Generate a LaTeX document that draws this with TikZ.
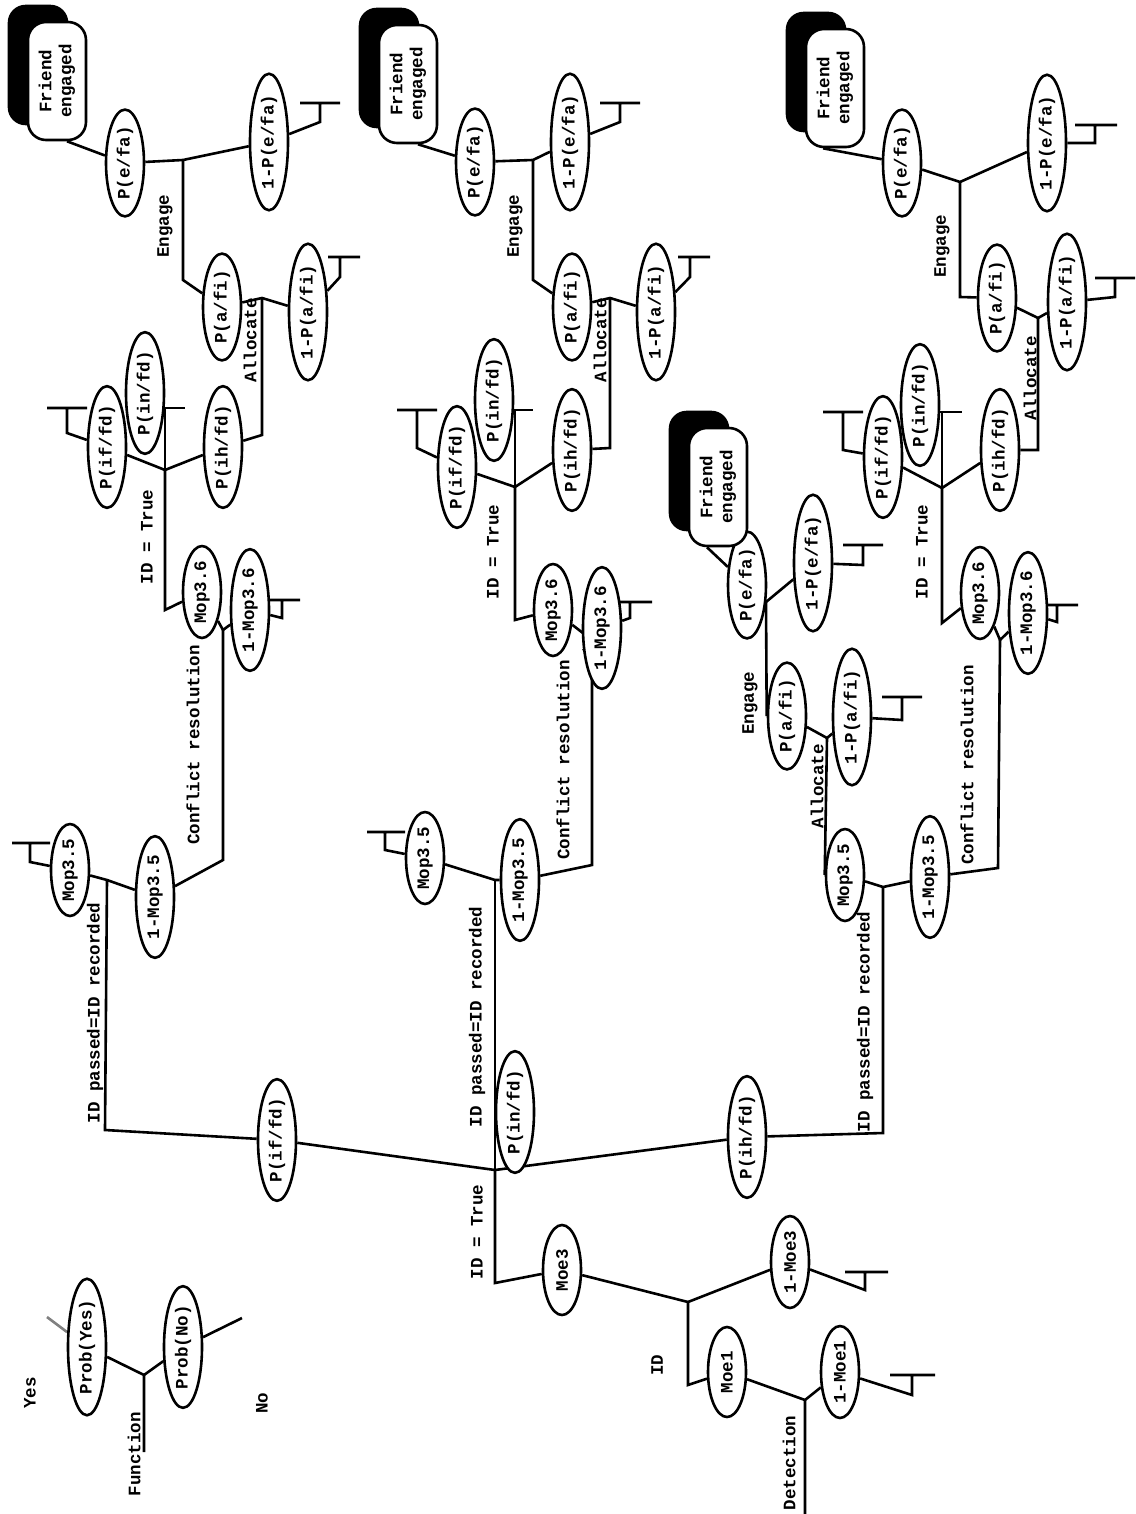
\documentclass[tikz,border=0pt]{standalone}
\usepackage{fontspec}
\setmonofont{Liberation Mono}
\usetikzlibrary{shapes.geometric,backgrounds}

\begin{document}
\begin{tikzpicture}[
    x=0.5pt,y=-0.5pt,
    font=\ttfamily\bfseries\fontsize{8.75}{10}\selectfont,
    line width=1.3pt,
    every on background layer/.style={line width=1.3pt},
    prob/.style={
        ellipse,draw,fill=white,rotate=90,
        inner xsep=0.5pt,inner ysep=0pt,
        minimum width=45pt,minimum height=19pt
    },
    outcome/.style={
        draw,fill=white,rounded corners=9pt,rotate=90,align=center,
        minimum width=59pt,minimum height=29pt,inner sep=2pt
    },
    shadowbox/.style={fill=black,rounded corners=9pt},
    lbl/.style={rotate=90,inner sep=0pt}
]
% The page is the scanned sheet, turned on its side.
\useasboundingbox (0,0) rectangle (1135,1514);

% key
\node[prob] (pyes) at (87,1347) {Prob(Yes)};
\node[prob] (pno) at (183,1347) {Prob(No)};
\node[lbl] (yes) at (30,1393) {Yes};
\node[lbl] (no) at (262,1403) {No};
\node[lbl] (func) at (134,1454) {Function};
\coordinate (fj) at (144,1375);
\coordinate (fend) at (144,1452);
\coordinate (yesend) at (47,1317);
\coordinate (noend) at (242,1318);

% detection and identification
\node[lbl] (det) at (789,1463) {Detection};
\coordinate (j0) at (805,1400);
\coordinate (detend) at (805,1514);
\node[prob] (moe1) at (727,1372) {Moe1};
\node[prob] (nmoe1) at (840,1372) {1-Moe1};
\node[lbl] (idl) at (657,1365) {ID};
\coordinate (b1) at (688,1385);
\coordinate (j1) at (688,1302);
\node[prob] (moe3) at (562,1270) {Moe3};
\node[prob] (nmoe3) at (790,1262) {1-Moe3};
\node[lbl] (idtrue) at (477,1232) {ID = True};
\coordinate (b2) at (495,1283);
\coordinate (j2) at (495,1170);
\node[prob] (pif) at (277,1140) {P(if/fd)};
\node[prob] (pin) at (515,1112) {P(in/fd)};
\node[prob] (pih) at (747,1137) {P(ih/fd)};
\coordinate (bl) at (105,1130);
\coordinate (br) at (883,1133);
\node[lbl] (passL) at (95,1013) {ID passed=ID recorded};
\node[lbl] (passM) at (477,1017) {ID passed=ID recorded};
\node[lbl] (passR) at (865,1022) {ID passed=ID recorded};

% left column
\coordinate (jl3) at (107,880);
\node[prob] (mop35L) at (70,870) {Mop3.5};
\node[prob] (nmop35L) at (155,897) {1-Mop3.5};
\node[lbl] (confL) at (193,745) {Conflict resolution};
\coordinate (jl4) at (223,630);
\node[prob] (mop36L) at (202,592) {Mop3.6};
\node[prob] (nmop36L) at (250,610) {1-Mop3.6};
\node[lbl] (idtL) at (147,537) {ID = True};
\coordinate (jl5) at (165,470);
\node[prob] (pifL) at (107,447) {P(if/fd)};
\node[prob] (pinL) at (145,393) {P(in/fd)};
\node[prob] (pihL) at (223,447) {P(ih/fd)};
\node[lbl] (allocL) at (250,340) {Allocate};
\coordinate (jl6) at (262,298);
\node[prob] (pafiL) at (222,307) {P(a/fi)};
\node[prob] (npafiL) at (308,312) {1-P(a/fi)};
\node[lbl] (engL) at (165,226) {Engage};
\coordinate (jl7) at (183,160);
\node[prob] (pefaL) at (125,163) {P(e/fa)};
\node[prob] (npefaL) at (269,142) {1-P(e/fa)};
\node[outcome] (feL) at (57,81) {Friend\\engaged};

% middle column
\coordinate (jm3) at (495,880);
\node[prob] (mop35M) at (425,858) {Mop3.5};
\node[prob] (nmop35M) at (520,880) {1-Mop3.5};
\node[lbl] (confM) at (563,760) {Conflict resolution};
\coordinate (jm4) at (592,640);
\node[prob] (mop36M) at (553,610) {Mop3.6};
\node[prob] (nmop36M) at (602,628) {1-Mop3.6};
\node[lbl] (idtM) at (493,552) {ID = True};
\coordinate (jm5) at (515,487);
\node[prob] (pifM) at (457,467) {P(if/fd)};
\node[prob] (pinM) at (494,400) {P(in/fd)};
\node[prob] (pihM) at (572,450) {P(ih/fd)};
\node[lbl] (allocM) at (600,340) {Allocate};
\coordinate (jm6) at (610,298);
\node[prob] (pafiM) at (572,307) {P(a/fi)};
\node[prob] (npafiM) at (656,312) {1-P(a/fi)};
\node[lbl] (engM) at (515,226) {Engage};
\coordinate (jm7) at (533,160);
\node[prob] (pefaM) at (475,162) {P(e/fa)};
\node[prob] (npefaM) at (570,142) {1-P(e/fa)};
\node[outcome] (feM) at (408,84) {Friend\\engaged};

% right column
\coordinate (jr3) at (883,887);
\node[prob] (mop35R) at (845,875) {Mop3.5};
\node[prob] (nmop35R) at (930,877) {1-Mop3.5};
\node[lbl] (confR) at (967,765) {Conflict resolution};
\coordinate (jr4) at (1000,640);
\node[prob] (mop36R) at (980,593) {Mop3.6};
\node[prob] (nmop36R) at (1028,613) {1-Mop3.6};
\node[lbl] (idtR) at (922,552) {ID = True};
\coordinate (jr5) at (942,488);
\node[prob] (pifR) at (883,457) {P(if/fd)};
\node[prob] (pinR) at (920,405) {P(in/fd)};
\node[prob] (pihR) at (1000,450) {P(ih/fd)};
\node[lbl] (allocR) at (1030,378) {Allocate};
\coordinate (jr6) at (1038,318);
\node[prob] (pafiR) at (997,298) {P(a/fi)};
\node[prob] (npafiR) at (1067,302) {1-P(a/fi)};
\node[lbl] (engR) at (942,246) {Engage};
\coordinate (jr7) at (960,182);
\node[prob] (pefaR) at (902,163) {P(e/fa)};
\node[prob] (npefaR) at (1047,143) {1-P(e/fa)};
\node[outcome] (feR) at (835,88) {Friend\\engaged};

% hostile branch straight from Mop3.5
\node[lbl] (allocT) at (817,786) {Allocate};
\coordinate (jt6) at (827,738);
\node[prob] (pafiT) at (787,716) {P(a/fi)};
\node[prob] (npafiT) at (852,717) {1-P(a/fi)};
\node[lbl] (engT) at (750,703) {Engage};
\coordinate (jt7) at (766,602);
\node[prob] (pefaT) at (747,585) {P(e/fa)};
\node[prob] (npefaT) at (813,563) {1-P(e/fa)};
\node[outcome] (feT) at (718,487) {Friend\\engaged};

\begin{scope}[on background layer]
% shadows behind the end states
\foreach \fe in {feL,feM,feR,feT}
    \fill[shadowbox] ([shift={(-19,-16)}]\fe.south west)
        rectangle ([shift={(-19,-16)}]\fe.north east);

% key
\draw (fend) -- (fj) -- (pyes);
\draw (fj) -- (pno) -- (noend);
\draw[gray] (pyes) -- (yesend);

% trunk
\draw (detend) -- (j0) -- (moe1) -- (b1) -- (j1) -- (moe3) -- (b2) -- (j2);
\draw (j0) -- (nmoe1) -- (912,1395) -- (912,1375) (890,1375) -- (935,1375);
\draw (j1) -- (nmoe3) -- (865,1290) -- (865,1272) (845,1272) -- (888,1272);
\draw (pif) -- (j2) -- (pih);
\draw (j2) -- (jm3);
\draw (pif) -- (bl) -- (jl3);
\draw (pih) -- (br) -- (jr3);

% left column
\draw (mop35L) -- (jl3) -- (nmop35L) -- (223,860) -- (jl4);
\draw (mop35L) -- (30,862) -- (30,843) (12,843) -- (50,843);
\draw (mop36L) -- (jl4) -- (nmop36L) -- (282,618) -- (282,600) (265,600) -- (300,600);
\draw (mop36L) -- (165,610) -- (jl5);
\draw (pifL) -- (jl5) -- (pihL) -- (262,435) -- (jl6);
\draw (jl5) -- (165,408) (145,408) -- (185,408);
\draw (pifL) -- (67,433) -- (67,408) (47,408) -- (87,408);
\draw (pafiL) -- (jl6) -- (npafiL) -- (340,277) -- (340,257) (328,257) -- (360,257);
\draw (pafiL) -- (183,280) -- (jl7);
\draw (pefaL) -- (jl7) -- (npefaL) -- (320,122) -- (320,103) (300,103) -- (340,103);
\draw ([shift={(10,0)}]feL.west) -- (pefaL);

% middle column
\draw (mop35M) -- (jm3) -- (nmop35M) -- (592,865) -- (jm4);
\draw (mop35M) -- (385,850) -- (385,832) (367,832) -- (405,832);
\draw (mop36M) -- (jm4) -- (nmop36M) -- (630,618) -- (630,602) (620,602) -- (652,602);
\draw (mop36M) -- (515,620) -- (jm5);
\draw (pifM) -- (jm5) -- (pihM) -- (610,448) -- (jm6);
\draw (jm5) -- (515,410) (495,410) -- (533,410);
\draw (pifM) -- (417,448) -- (417,410) (397,410) -- (437,410);
\draw (pafiM) -- (jm6) -- (npafiM) -- (690,277) -- (690,257) (678,257) -- (710,257);
\draw (pafiM) -- (533,280) -- (jm7);
\draw (pefaM) -- (jm7) -- (npefaM) -- (620,122) -- (620,103) (600,103) -- (640,103);
\draw ([shift={(10,0)}]feM.west) -- (pefaM);

% right column
\draw (mop35R) -- (jr3) -- (nmop35R) -- (998,868) -- (jr4);
\draw (mop36R) -- (jr4) -- (nmop36R) -- (1057,622) -- (1057,605) (1047,605) -- (1078,605);
\draw (mop36R) -- (942,623) -- (jr5);
\draw (pifR) -- (jr5) -- (pihR) -- (1038,450) -- (jr6);
\draw (jr5) -- (942,412) (920,412) -- (962,412);
\draw (pifR) -- (843,450) -- (843,412) (823,412) -- (863,412);
\draw (pafiR) -- (jr6) -- (npafiR) -- (1115,297) -- (1115,278) (1095,278) -- (1135,278);
\draw (pafiR) -- (960,297) -- (jr7);
\draw (pefaR) -- (jr7) -- (npefaR) -- (1095,143) -- (1095,125) (1075,125) -- (1117,125);
\draw ([shift={(-12,0)}]feR.west) -- (pefaR);

% hostile branch
\draw (jt6) -- (mop35R.north);
\draw (pafiT) -- (jt6) -- (npafiT) -- (902,720) -- (902,697) (882,697) -- (922,697);
\draw (jt7) -- (pafiT.north);
\draw (pefaT) -- (jt7) -- (npefaT) -- (863,565) -- (863,545) (843,545) -- (883,545);
\draw ([shift={(-11,0)}]feT.west) -- (pefaT);
\end{scope}
\end{tikzpicture}
\end{document}
